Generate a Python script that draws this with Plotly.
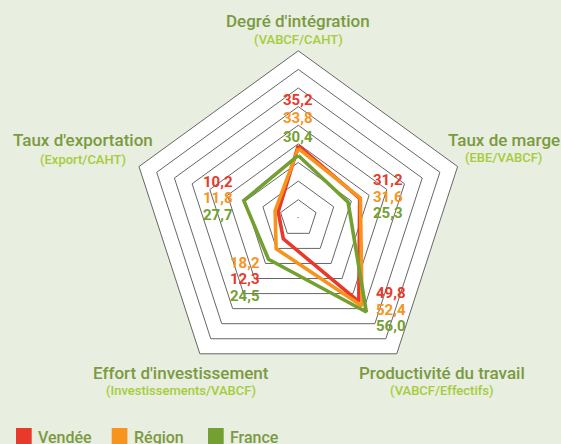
import plotly.graph_objects as go

categories = ["Degré d'intégration", "Taux de marge", "Productivité du travail",
              "Effort d'investissement", "Taux d'exportation"]
subtitles = ["(VABCF/CAHT)", "(EBE/VABCF)", "(VABCF/Effectifs)",
             "(Investissements/VABCF)", "(Export/CAHT)"]
series_names = ["Vendée", "Région", "France"]
vendee = [35.2, 31.2, 49.8, 12.3, 10.2]
region = [33.8, 31.6, 52.4, 18.2, 11.8]
france = [30.4, 25.3, 56.0, 24.5, 27.7]

colors = ["#e8392a", "#f7941d", "#74a032"]
BG = "#e8eee0"
TITLE_C = "#7b9a3f"
SUB_C = "#a6cc3a"
W, H = 561, 444

fig = go.Figure()
for name, vals, c in zip(series_names, [vendee, region, france], colors):
    fig.add_trace(go.Scatterpolar(
        r=vals + [vals[0]], theta=categories + [categories[0]],
        mode="lines", line=dict(color=c, width=3.6), name=name,
        showlegend=False, hoverinfo="skip"))

cx, cy, R = 298.3, 218.3, 167.5
fig.update_layout(
    width=W, height=H, margin=dict(l=0, r=0, t=0, b=0),
    paper_bgcolor=BG, plot_bgcolor=BG, showlegend=False,
    font=dict(family="Roboto", color=TITLE_C),
    polar=dict(
        domain=dict(x=[(cx - R) / W, (cx + R) / W], y=[(H - cy - R) / H, (H - cy + R) / H]),
        bgcolor="white", gridshape="linear",
        radialaxis=dict(range=[0, 81], tick0=0, dtick=9, showticklabels=False, ticks="",
                        showline=False, gridcolor="#666666", gridwidth=1),
        angularaxis=dict(direction="clockwise", rotation=90, showticklabels=False,
                         ticks="", showgrid=False, linecolor="#666666", linewidth=1),
    ),
)

def px(x, y):
    return x / W, 1 - y / H

ann = []
# axis titles
title_pos = [(298.3, 20.7, 39.3), (503.8, 140, 157.3), (442.3, 372.7, 390),
             (181, 372.7, 390), (83.3, 140, 159)]
for cat, sub, (x, y1, y2) in zip(categories, subtitles, title_pos):
    X, Y = px(x, y1)
    ann.append(dict(x=X, y=Y, text=cat, showarrow=False, xref="paper", yref="paper",
                    xanchor="center", yanchor="middle",
                    font=dict(family="Roboto", size=17, color=TITLE_C, weight=500)))
    X, Y = px(x, y2)
    ann.append(dict(x=X, y=Y, text=sub, showarrow=False, xref="paper", yref="paper",
                    xanchor="center", yanchor="middle",
                    font=dict(family="Roboto", size=13, color=SUB_C, weight=500)))

# value labels: (x, [y for each series in order vendee, region, france])
label_pos = [(298.3, [100, 118.3, 136.7]),
             (388.3, [180, 196.5, 213]),
             (390.7, [293.3, 309.5, 325.5]),
             (245, [279.3, 262.7, 295.5]),
             (218.3, [182.3, 198.5, 214.5])]
for i, (x, ys) in enumerate(label_pos):
    for vals, c, y in zip([vendee, region, france], colors, ys):
        X, Y = px(x, y)
        ann.append(dict(x=X, y=Y, text=f"{vals[i]:.1f}".replace(".", ","), showarrow=False,
                        xref="paper", yref="paper", xanchor="center", yanchor="middle",
                        font=dict(family="Roboto", size=15, color=c, weight="bold")))

# center tick mark
X, Y = px(cx, cy)
ann.append(dict(x=X, y=Y, text="-", showarrow=False, xref="paper", yref="paper",
                font=dict(size=7, color="#555555")))

# legend
shapes = []
leg = [(16, 36), (111.7, 132), (208, 228)]
for name, c, (sx, tx) in zip(series_names, colors, leg):
    x0, y0 = px(sx, 428)
    x1, y1 = px(sx + 15.7, 444)
    shapes.append(dict(type="rect", xref="paper", yref="paper", x0=x0, x1=x1, y0=y1, y1=y0,
                       fillcolor=c, line=dict(width=0)))
    X, Y = px(tx, 437)
    ann.append(dict(x=X, y=Y, text=name, showarrow=False, xref="paper", yref="paper",
                    xanchor="left", yanchor="middle",
                    font=dict(family="Roboto", size=16, color=TITLE_C, weight=500)))

fig.update_layout(annotations=ann, shapes=shapes)
fig.write_html("out.html", config={"displayModeBar": False},
               post_script="document.body.style.margin='0';document.body.style.overflow='hidden';")
